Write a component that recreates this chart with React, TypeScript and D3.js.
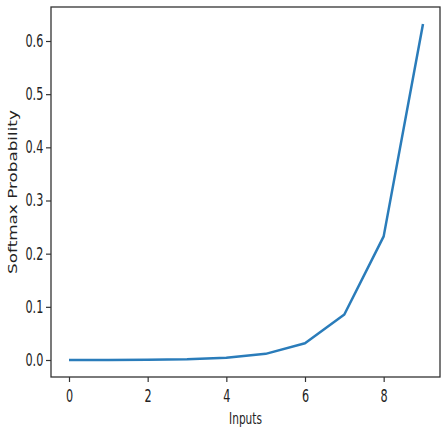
import React, { useEffect, useRef } from 'react';
import * as d3 from 'd3';

const inputs = [0, 1, 2, 3, 4, 5, 6, 7, 8, 9];
const probabilities = [0.0001, 0.0002, 0.0006, 0.0016, 0.0043, 0.0116, 0.0315, 0.0855, 0.2325, 0.632];
const xTicks = [0, 2, 4, 6, 8];
const yTicks = [0.0, 0.1, 0.2, 0.3, 0.4, 0.5, 0.6];

const W = 447;
const H = 441;
const SX = 0.66; // the picture is squeezed horizontally

const App = () => {
  const svgRef = useRef<SVGSVGElement>(null);

  useEffect(() => {
    const svg = d3.select(svgRef.current);
    svg.selectAll('*').remove();

    const frame = { left: 51, top: 7, right: 440, bottom: 377 };

    const x = d3.scaleLinear().domain([0, 9]).range([69, 423]);
    const y = d3.scaleLinear().domain([0, 0.6]).range([360, 41]);

    const font = 'DejaVu Sans, sans-serif';

    // line
    const line = d3.line<number>()
      .x((d, i) => x(inputs[i]))
      .y(d => y(d));

    svg.append('path')
      .datum(probabilities)
      .attr('d', line)
      .attr('fill', 'none')
      .attr('stroke', '#2a7cba')
      .attr('stroke-width', 2.5)
      .attr('stroke-linejoin', 'round');

    // frame
    svg.append('rect')
      .attr('x', frame.left)
      .attr('y', frame.top)
      .attr('width', frame.right - frame.left)
      .attr('height', frame.bottom - frame.top)
      .attr('fill', 'none')
      .attr('stroke', '#333')
      .attr('stroke-width', 1.3);

    // y axis
    const yAxis = svg.append('g')
      .attr('transform', `translate(${frame.left},0)`)
      .call(d3.axisLeft(y).tickValues(yTicks).tickFormat(d3.format('.1f')).tickSize(5).tickSizeOuter(0));
    yAxis.select('.domain').remove();
    yAxis.selectAll('line').attr('stroke', '#333').attr('stroke-width', 1.2);
    yAxis.selectAll('text')
      .attr('x', -7.7 / SX)
      .attr('transform', `scale(${SX},1)`)
      .attr('fill', '#222')
      .style('font-family', font)
      .style('font-size', '17px');

    // x axis
    const xAxis = svg.append('g')
      .attr('transform', `translate(0,${frame.bottom})`)
      .call(d3.axisBottom(x).tickValues(xTicks).tickFormat(d3.format('d')).tickSize(5).tickPadding(8).tickSizeOuter(0));
    xAxis.select('.domain').remove();
    xAxis.selectAll('line').attr('stroke', '#333').attr('stroke-width', 1.2);
    xAxis.selectAll('text')
      .attr('transform', `scale(${SX},1)`)
      .attr('fill', '#222')
      .style('font-family', font)
      .style('font-size', '17px');

    // axis labels
    svg.append('text')
      .attr('transform', `translate(${(frame.left + frame.right) / 2},424) scale(${SX},1)`)
      .attr('text-anchor', 'middle')
      .attr('fill', '#222')
      .style('font-family', font)
      .style('font-size', '16px')
      .text('Inputs');

    svg.append('text')
      .attr('transform', `translate(17,192) scale(0.74,1) rotate(-90)`)
      .attr('text-anchor', 'middle')
      .attr('fill', '#222')
      .style('font-family', font)
      .style('font-size', '16.8px')
      .text('Softmax Probability');
  }, []);

  return (
    <svg ref={svgRef} width={W} height={H} style={{ position: 'absolute', left: 0, top: 0, background: '#fff' }} />
  );
};

export default App;
